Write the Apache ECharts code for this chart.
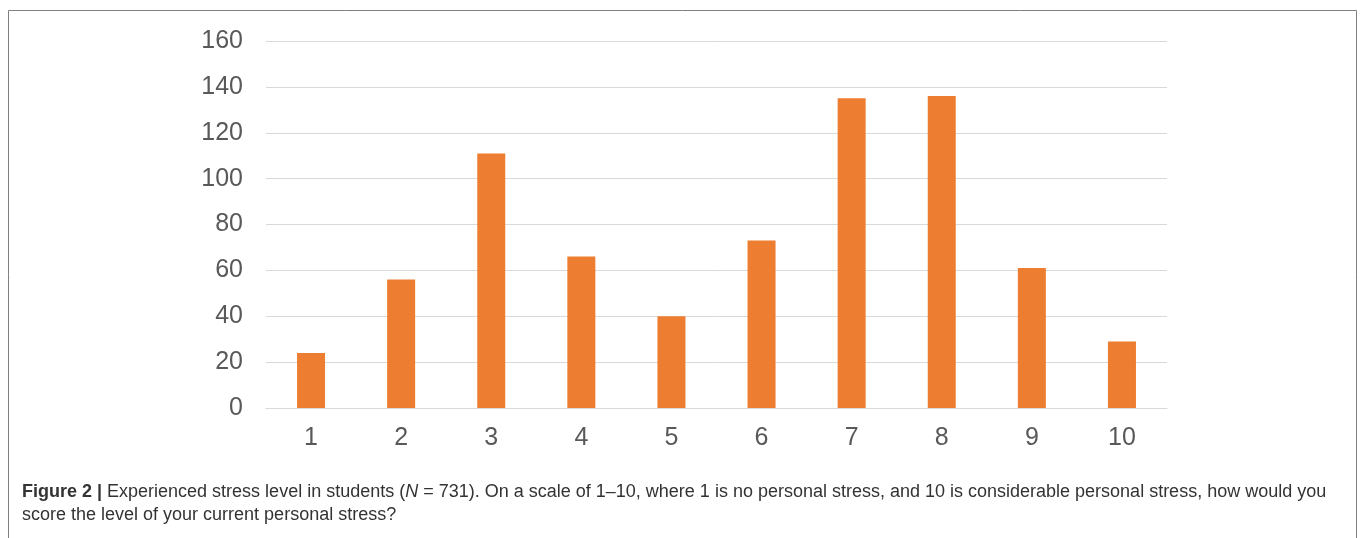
<!DOCTYPE html>
<html>
<head>
<meta charset="utf-8">
<script src="https://cdn.jsdelivr.net/npm/echarts@6/dist/echarts.min.js"></script>
<style>
html,body{margin:0;padding:0;background:#fff;}
#chart{width:1360px;height:538px;}
</style>
</head>
<body>
<div id="chart"></div>
<script>
const categories = ['1','2','3','4','5','6','7','8','9','10'];
const counts = [24, 56, 111, 66, 40, 73, 135, 136, 61, 29];
const yTicks = { min: 0, max: 160, interval: 20 };
const captionLine1 = ['Figure 2 |', ' Experienced stress level in students (', 'N', ' = 731). On a scale of 1\u201310, where 1 is no personal stress, and 10 is considerable personal stress, how would you'];
const captionLine2 = 'score the level of your current personal stress?';

const chart = echarts.init(document.getElementById('chart'), null, {renderer: 'canvas'});
const font = 'Liberation Sans, Arial, sans-serif';
const capSize = 18;
chart.setOption({
  animation: false,
  backgroundColor: '#ffffff',
  grid: { left: 266, right: 193, top: 41, bottom: 130, containLabel: false },
  xAxis: {
    type: 'category',
    data: categories,
    axisLine: { show: true, lineStyle: { color: '#d9d9d9', width: 1 } },
    axisTick: { show: false },
    axisLabel: { color: '#595959', fontSize: 25, fontFamily: font, margin: 18 }
  },
  yAxis: {
    type: 'value',
    min: yTicks.min, max: yTicks.max, interval: yTicks.interval,
    axisLine: { show: false },
    axisTick: { show: false },
    splitLine: { lineStyle: { color: '#d9d9d9', width: 1 } },
    axisLabel: { color: '#595959', fontSize: 25, fontFamily: font, margin: 23 }
  },
  series: [{
    type: 'bar',
    data: counts,
    barWidth: 28,
    itemStyle: { color: '#ED7D31' }
  }],
  graphic: [
    {
      type: 'rect',
      shape: { x: 8.5, y: 10.5, width: 1348, height: 540 },
      style: { fill: 'none', stroke: '#7f7f7f', lineWidth: 1 },
      silent: true
    },
    {
      type: 'text',
      left: 22, top: 483,
      style: {
        text: '{b|' + captionLine1[0] + '}{n|' + captionLine1[1] + '}{i|' + captionLine1[2] + '}{n|' + captionLine1[3] + '}',
        rich: {
          b: { fontWeight: 'bold', fontSize: capSize, fontFamily: font, fill: '#333333' },
          n: { fontSize: capSize, fontFamily: font, fill: '#333333' },
          i: { fontStyle: 'italic', fontSize: capSize, fontFamily: font, fill: '#333333' }
        }
      }
    },
    {
      type: 'text',
      left: 22, top: 506,
      style: { text: captionLine2, fontSize: capSize, fontFamily: font, fill: '#333333' }
    }
  ]
});
</script>
</body>
</html>
